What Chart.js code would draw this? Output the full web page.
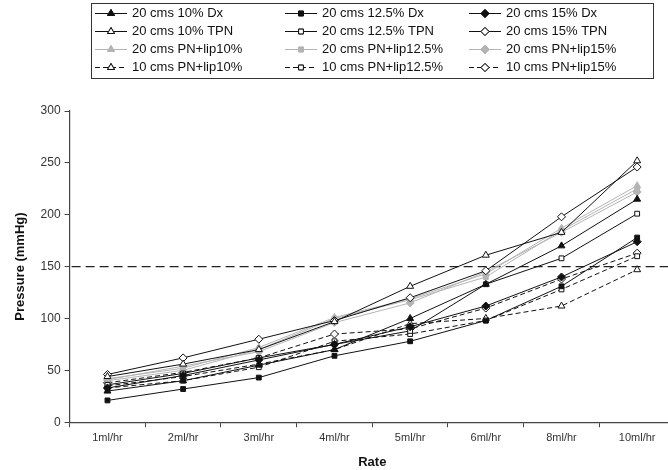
<!DOCTYPE html>
<html>
<head>
<meta charset="utf-8">
<script src="https://cdn.jsdelivr.net/npm/chart.js@4/dist/chart.umd.min.js"></script>
<style>
  html, body { margin: 0; padding: 0; background: #fff; overflow: hidden; }
  #wrap { width: 680px; height: 470px; }
</style>
</head>
<body>
<div id="wrap"><canvas id="myChart" width="680" height="470"></canvas></div>
<script>
// categories on the x axis
const rates = ['1ml/hr', '2ml/hr', '3ml/hr', '4ml/hr', '5ml/hr', '6ml/hr', '8ml/hr', '10ml/hr'];

// series values (mmHg)
const dx10 = [30, 40, 55, 70, 100, 133, 170, 215];
const dx125 = [21, 32, 43, 64, 78, 98, 131, 178];
const dx15 = [33, 45, 60, 75, 92, 112, 140, 174];
const tpn10 = [44, 56, 70, 97, 131, 161, 183, 252];
const tpn125 = [36, 47, 62, 75, 88, 133, 158, 201];
const tpn15 = [46, 62, 80, 98, 120, 146, 198, 246];
const lip10 = [42, 52, 72, 101, 119, 143, 187, 228];
const lip125 = [40, 50, 70, 100, 118, 140, 185, 225];
const lip15 = [41, 54, 68, 96, 115, 145, 183, 222];
const lip10s = [35, 44, 56, 70, 95, 100, 112, 147];
const lip125s = [33, 40, 53, 78, 85, 98, 128, 160];
const lip15s = [38, 48, 62, 85, 90, 110, 138, 163];

// y axis ticks and the limit line
const yTicks = [0, 50, 100, 150, 200, 250, 300];
const limit = 150;

const black = '#111';
const gray = '#b4b4b4';

//builds one dataset with the look of the original series
function series(label, data, style, filled, color, dashed) {
  return {
    label,
    data,
    borderColor: color,
    backgroundColor: filled ? color : '#fff',
    pointStyle: style,
    pointRadius: style === 'rect' ? 3.4 : 4,
    pointBorderWidth: 1,
    pointBorderColor: color,
    borderWidth: 1,
    borderDash: dashed ? [5, 3] : [],
    tension: 0
  };
}

const datasets = [
  series('20 cms 10% Dx', dx10, 'triangle', true, black, false),
  series('20 cms 12.5% Dx', dx125, 'rect', true, black, false),
  series('20 cms 15% Dx', dx15, 'rectRot', true, black, false),
  series('20 cms 10% TPN', tpn10, 'triangle', false, black, false),
  series('20 cms 12.5% TPN', tpn125, 'rect', false, black, false),
  series('20 cms 15% TPN', tpn15, 'rectRot', false, black, false),
  series('20 cms PN+lip10%', lip10, 'triangle', true, gray, false),
  series('20 cms PN+lip12.5%', lip125, 'rect', true, gray, false),
  series('20 cms PN+lip15%', lip15, 'rectRot', true, gray, false),
  series('10 cms PN+lip10%', lip10s, 'triangle', false, black, true),
  series('10 cms PN+lip12.5%', lip125s, 'rect', false, black, true),
  series('10 cms PN+lip15%', lip15s, 'rectRot', false, black, true)
];

//dashed limit line across the plot
const limitLine = {
  id: 'limitLine',
  beforeDatasetsDraw(chart) {
    const {ctx, chartArea, scales} = chart;
    const y = scales.y.getPixelForValue(limit);
    ctx.save();
    ctx.strokeStyle = '#222';
    ctx.lineWidth = 1.2;
    ctx.setLineDash([9, 5]);
    ctx.beginPath();
    ctx.moveTo(chartArea.left + 2, y);
    ctx.lineTo(chartArea.right, y);
    ctx.stroke();
    ctx.restore();
  }
};

//boxed legend in three columns, drawn from the datasets
const boxLegend = {
  id: 'boxLegend',
  afterDraw(chart) {
    const {ctx} = chart;
    const cols = [95, 285, 469];
    const rowY = [13, 31, 49, 67];
    ctx.save();
    ctx.strokeStyle = '#333';
    ctx.lineWidth = 1;
    ctx.strokeRect(91.5, 3.5, 562, 75);
    ctx.font = '13px "Liberation Sans", Arial, sans-serif';
    ctx.textBaseline = 'middle';
    chart.data.datasets.forEach((ds, i) => {
      const x = cols[i % 3];
      const y = rowY[Math.floor(i / 3)];
      ctx.strokeStyle = ds.borderColor;
      ctx.setLineDash(ds.borderDash);
      ctx.beginPath();
      ctx.moveTo(x, y + 0.5);
      ctx.lineTo(x + 32, y + 0.5);
      ctx.stroke();
      ctx.setLineDash([]);
      Chart.helpers.drawPoint(ctx, {
        pointStyle: ds.pointStyle,
        radius: ds.pointRadius,
        rotation: 0,
        borderWidth: 1
      }, x + 16, y + 0.5);
      ctx.fillStyle = ds.backgroundColor;
      ctx.strokeStyle = ds.borderColor;
      ctx.fill();
      ctx.stroke();
      ctx.fillStyle = '#111';
      ctx.fillText(ds.label, x + 37, y);
    });
    ctx.restore();
  }
};

const config = {
  type: 'line',
  data: { labels: rates, datasets },
  options: {
    responsive: false,
    animation: false,
    layout: { padding: { top: 111, right: 0, left: 9, bottom: 0 } },
    plugins: { legend: { display: false }, tooltip: { enabled: false } },
    scales: {
      x: {
        offset: true,
        grid: { drawOnChartArea: false, drawTicks: true, tickLength: 5, offset: true, color: '#444' },
        border: { color: '#444', width: 1.2 },
        ticks: { color: '#333', font: { size: 11, family: 'Liberation Sans' }, padding: 4, maxRotation: 0 },
        title: { display: true, text: 'Rate', color: '#111', font: { size: 13, weight: 'bold', family: 'Liberation Sans' }, padding: { top: 6, bottom: 0 } }
      },
      y: {
        min: 0,
        max: 300,
        afterBuildTicks(scale) { scale.ticks = yTicks.map(v => ({ value: v })); },
        grid: { drawOnChartArea: false, drawTicks: true, tickLength: 5, color: '#444' },
        border: { color: '#444', width: 1.2 },
        ticks: { color: '#333', font: { size: 12, family: 'Liberation Sans' }, padding: 4 },
        title: { display: true, text: 'Pressure (mmHg)', color: '#111', font: { size: 13, weight: 'bold', family: 'Liberation Sans' }, padding: { top: 4, bottom: 8 } }
      }
    }
  },
  plugins: [limitLine, boxLegend]
};

let myChart = document.getElementById('myChart').getContext('2d');
new Chart(myChart, config);
</script>
</body>
</html>
